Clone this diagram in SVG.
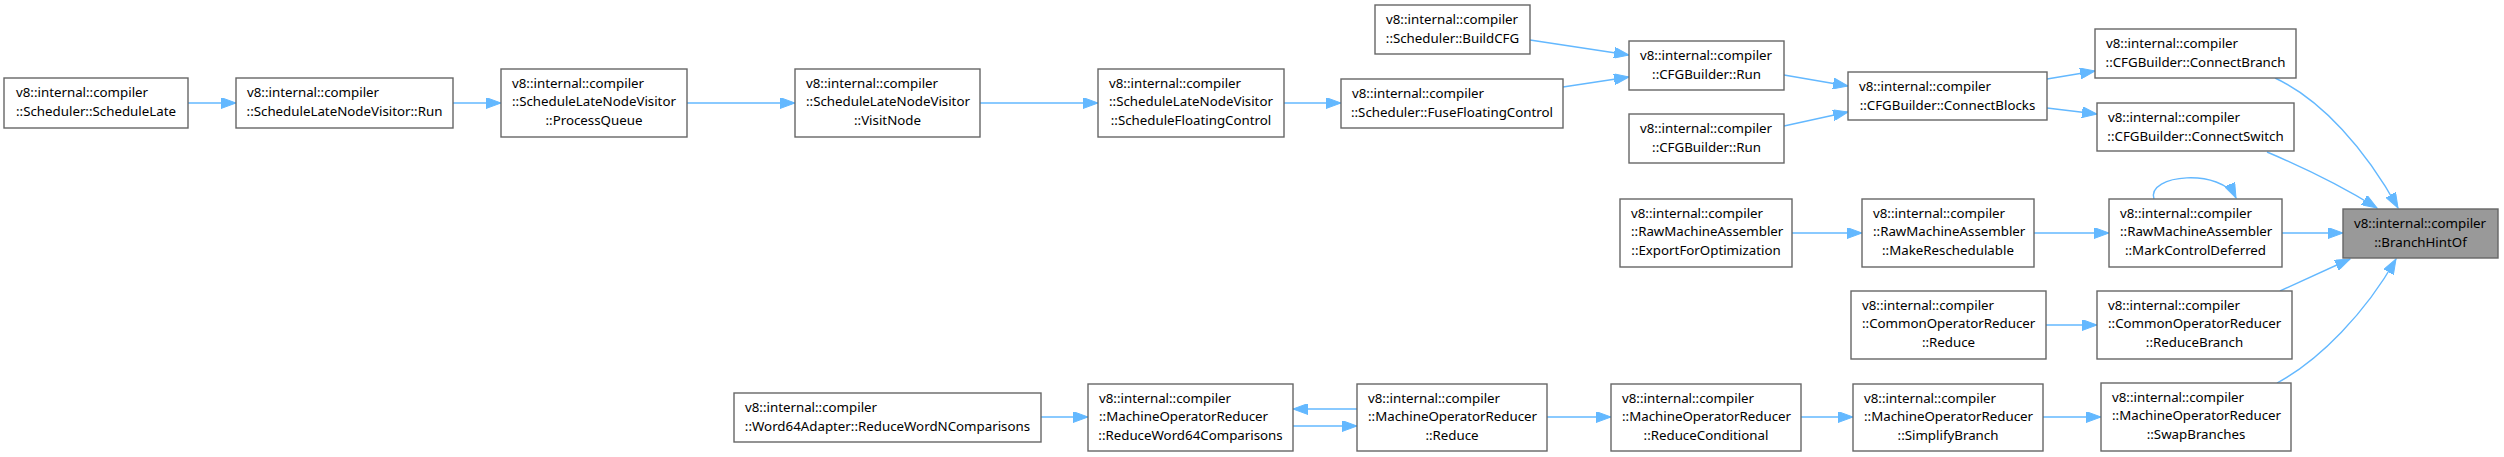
<svg xmlns="http://www.w3.org/2000/svg" width="2504" height="457" viewBox="0 0 2504 457">
<style>
.n rect{fill:#ffffff;stroke:#666666;stroke-width:1.4}
.n.hl rect{fill:#999999}
.n text{font-family:"Noto Sans","Open Sans","DejaVu Sans",sans-serif;font-size:13.3px;fill:#000000}
.n text.c{text-anchor:middle}
.e path{fill:none;stroke:#63b8ff;stroke-width:1.4}
</style>
<defs>
<marker id="ah" markerUnits="userSpaceOnUse" markerWidth="16" markerHeight="11" refX="15" refY="5.5" orient="auto">
<path d="M0,0 L15,5.5 L0,11 z" fill="#63b8ff" stroke="#63b8ff" stroke-width="1"/>
</marker>
</defs>
<rect width="2504" height="457" fill="#ffffff"/>
<g id="edges" class="e">
<path d="M188,103 L236,103" marker-end="url(#ah)"/>
<path d="M453,103 L501,103" marker-end="url(#ah)"/>
<path d="M687,103 L795,103" marker-end="url(#ah)"/>
<path d="M980,103 L1098,103" marker-end="url(#ah)"/>
<path d="M1284,103 L1341,103" marker-end="url(#ah)"/>
<path d="M1530,40 L1629,55" marker-end="url(#ah)"/>
<path d="M1563,87 L1629,77" marker-end="url(#ah)"/>
<path d="M1784,75 L1848,86" marker-end="url(#ah)"/>
<path d="M1784,126 L1848,112" marker-end="url(#ah)"/>
<path d="M2047,79 L2095,71" marker-end="url(#ah)"/>
<path d="M2047,108 L2097,114" marker-end="url(#ah)"/>
<path d="M2275,78 C2322,100 2366,150 2398,208" marker-end="url(#ah)"/>
<path d="M2267,152 C2300,166 2345,188 2377,208" marker-end="url(#ah)"/>
<path d="M2154,199 C2146,174 2222,168 2236,198" marker-end="url(#ah)"/>
<path d="M2282,233 L2343,233" marker-end="url(#ah)"/>
<path d="M2034,233 L2109,233" marker-end="url(#ah)"/>
<path d="M1792,233 L1862,233" marker-end="url(#ah)"/>
<path d="M2280,291 L2350,259" marker-end="url(#ah)"/>
<path d="M2046,325 L2097,325" marker-end="url(#ah)"/>
<path d="M2277,383 C2320,360 2366,312 2396,259" marker-end="url(#ah)"/>
<path d="M2043,417 L2101,417" marker-end="url(#ah)"/>
<path d="M1801,417 L1853,417" marker-end="url(#ah)"/>
<path d="M1547,417 L1611,417" marker-end="url(#ah)"/>
<path d="M1293,426 L1357,426" marker-end="url(#ah)"/>
<path d="M1357,409 L1293,409" marker-end="url(#ah)"/>
<path d="M1041,417 L1088,417" marker-end="url(#ah)"/>
</g>
<g id="n1" class="n"><rect x="4" y="78" width="184" height="50"/><text x="16" y="97">v8::internal::compiler</text><text class="c" x="96" y="116">::Scheduler::ScheduleLate</text></g>
<g id="n2" class="n"><rect x="236" y="78" width="217" height="50"/><text x="247" y="97">v8::internal::compiler</text><text class="c" x="344.5" y="116">::ScheduleLateNodeVisitor::Run</text></g>
<g id="n3" class="n"><rect x="501" y="69" width="186" height="68"/><text x="512" y="87.5">v8::internal::compiler</text><text x="512" y="106">::ScheduleLateNodeVisitor</text><text class="c" x="594" y="124.5">::ProcessQueue</text></g>
<g id="n4" class="n"><rect x="795" y="69" width="185" height="68"/><text x="806" y="87.5">v8::internal::compiler</text><text x="806" y="106">::ScheduleLateNodeVisitor</text><text class="c" x="887.5" y="124.5">::VisitNode</text></g>
<g id="n5" class="n"><rect x="1098" y="69" width="186" height="68"/><text x="1109" y="87.5">v8::internal::compiler</text><text x="1109" y="106">::ScheduleLateNodeVisitor</text><text class="c" x="1191" y="124.5">::ScheduleFloatingControl</text></g>
<g id="n6" class="n"><rect x="1341" y="79" width="222" height="49"/><text x="1352" y="97.5">v8::internal::compiler</text><text class="c" x="1452" y="116.5">::Scheduler::FuseFloatingControl</text></g>
<g id="n7" class="n"><rect x="1375" y="5" width="155" height="49"/><text x="1386" y="23.5">v8::internal::compiler</text><text class="c" x="1452.5" y="42.5">::Scheduler::BuildCFG</text></g>
<g id="n8" class="n"><rect x="1629" y="41" width="155" height="49"/><text x="1640" y="59.5">v8::internal::compiler</text><text class="c" x="1706.5" y="78.5">::CFGBuilder::Run</text></g>
<g id="n9" class="n"><rect x="1629" y="114" width="155" height="49"/><text x="1640" y="132.5">v8::internal::compiler</text><text class="c" x="1706.5" y="151.5">::CFGBuilder::Run</text></g>
<g id="n10" class="n"><rect x="1848" y="72" width="199" height="48"/><text x="1859" y="90.5">v8::internal::compiler</text><text class="c" x="1947.5" y="109.5">::CFGBuilder::ConnectBlocks</text></g>
<g id="n11" class="n"><rect x="2095" y="29" width="201" height="49"/><text x="2106" y="47.5">v8::internal::compiler</text><text class="c" x="2195.5" y="66.5">::CFGBuilder::ConnectBranch</text></g>
<g id="n12" class="n"><rect x="2097" y="103" width="197" height="48"/><text x="2108" y="121.5">v8::internal::compiler</text><text class="c" x="2195.5" y="140.5">::CFGBuilder::ConnectSwitch</text></g>
<g id="n13" class="n hl"><rect x="2343" y="209" width="155" height="49"/><text x="2354" y="227.5">v8::internal::compiler</text><text class="c" x="2420.5" y="246.5">::BranchHintOf</text></g>
<g id="n14" class="n"><rect x="2109" y="199" width="173" height="68"/><text x="2120" y="217.5">v8::internal::compiler</text><text x="2120" y="236">::RawMachineAssembler</text><text class="c" x="2195.5" y="254.5">::MarkControlDeferred</text></g>
<g id="n15" class="n"><rect x="1862" y="199" width="172" height="68"/><text x="1873" y="217.5">v8::internal::compiler</text><text x="1873" y="236">::RawMachineAssembler</text><text class="c" x="1948" y="254.5">::MakeReschedulable</text></g>
<g id="n16" class="n"><rect x="1620" y="199" width="172" height="68"/><text x="1631" y="217.5">v8::internal::compiler</text><text x="1631" y="236">::RawMachineAssembler</text><text class="c" x="1706" y="254.5">::ExportForOptimization</text></g>
<g id="n17" class="n"><rect x="1851" y="291" width="195" height="68"/><text x="1862" y="309.5">v8::internal::compiler</text><text x="1862" y="328">::CommonOperatorReducer</text><text class="c" x="1948.5" y="346.5">::Reduce</text></g>
<g id="n18" class="n"><rect x="2097" y="291" width="195" height="68"/><text x="2108" y="309.5">v8::internal::compiler</text><text x="2108" y="328">::CommonOperatorReducer</text><text class="c" x="2194.5" y="346.5">::ReduceBranch</text></g>
<g id="n19" class="n"><rect x="2101" y="383" width="190" height="68"/><text x="2112" y="401.5">v8::internal::compiler</text><text x="2112" y="420">::MachineOperatorReducer</text><text class="c" x="2196" y="438.5">::SwapBranches</text></g>
<g id="n20" class="n"><rect x="1853" y="384" width="190" height="67"/><text x="1864" y="402.5">v8::internal::compiler</text><text x="1864" y="421">::MachineOperatorReducer</text><text class="c" x="1948" y="439.5">::SimplifyBranch</text></g>
<g id="n21" class="n"><rect x="1611" y="384" width="190" height="67"/><text x="1622" y="402.5">v8::internal::compiler</text><text x="1622" y="421">::MachineOperatorReducer</text><text class="c" x="1706" y="439.5">::ReduceConditional</text></g>
<g id="n22" class="n"><rect x="1357" y="384" width="190" height="67"/><text x="1368" y="402.5">v8::internal::compiler</text><text x="1368" y="421">::MachineOperatorReducer</text><text class="c" x="1452" y="439.5">::Reduce</text></g>
<g id="n23" class="n"><rect x="1088" y="384" width="205" height="67"/><text x="1099" y="402.5">v8::internal::compiler</text><text x="1099" y="421">::MachineOperatorReducer</text><text class="c" x="1190.5" y="439.5">::ReduceWord64Comparisons</text></g>
<g id="n24" class="n"><rect x="734" y="393" width="307" height="49"/><text x="745" y="411.5">v8::internal::compiler</text><text class="c" x="887.5" y="430.5">::Word64Adapter::ReduceWordNComparisons</text></g>
</svg>
